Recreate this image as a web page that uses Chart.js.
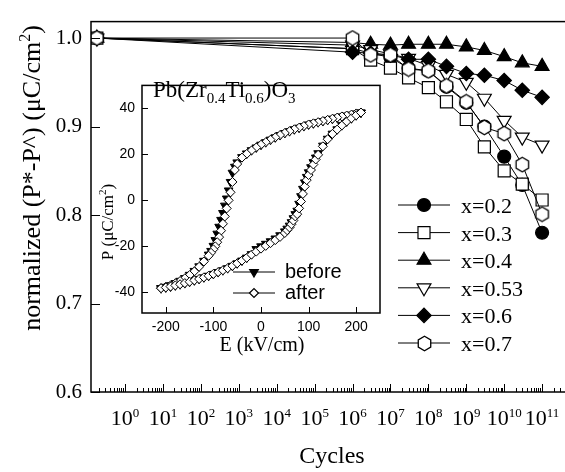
<!DOCTYPE html>
<html><head><meta charset="utf-8">
<script src="https://cdn.jsdelivr.net/npm/chart.js@4.4.1/dist/chart.umd.min.js"></script>
<style>
html,body{margin:0;padding:0;background:#fff;overflow:hidden;width:565px;height:472px;}
#wrap{position:relative;width:565px;height:472px;overflow:hidden;background:#fff;}
#main{position:absolute;left:0;top:0;width:600px;height:472px;}
#inset{position:absolute;left:90px;top:70px;width:300px;height:290px;}
</style></head><body>
<div id="wrap"><canvas id="main" width="600" height="472"></canvas><canvas id="inset" width="300" height="290"></canvas></div>
<script>
// ---------- main chart data ----------
const cycles = [0.18, 1e6, 3e6, 1e7, 3e7, 1e8, 3e8, 1e9, 3e9, 1e10, 3e10, 1e11];
const seriesLabels = ['x=0.2', 'x=0.3', 'x=0.4', 'x=0.53', 'x=0.6', 'x=0.7'];
const x02  = [1.0, 0.988, 0.983, 0.978, 0.966, 0.963, 0.945, 0.927, 0.900, 0.866, 0.834, 0.780];
const x03  = [1.0, 0.988, 0.975, 0.966, 0.955, 0.944, 0.928, 0.908, 0.877, 0.850, 0.835, 0.817];
const x04  = [1.0, 0.995, 0.993, 0.992, 0.993, 0.993, 0.993, 0.990, 0.986, 0.979, 0.972, 0.968];
const x053 = [1.0, 0.992, 0.987, 0.982, 0.977, 0.969, 0.959, 0.950, 0.932, 0.907, 0.888, 0.879];
const x06  = [1.0, 0.984, 0.983, 0.981, 0.976, 0.976, 0.968, 0.960, 0.958, 0.952, 0.941, 0.933];
const x07  = [1.0, 1.0, 0.981, 0.981, 0.965, 0.963, 0.946, 0.928, 0.899, 0.892, 0.857, 0.801];
const yTicks = [0.6, 0.7, 0.8, 0.9, 1.0];
const xTickPowers = [0, 1, 2, 3, 4, 5, 6, 7, 8, 9, 10, 11];

// ---------- inset (hysteresis loop) data ----------
const eDown = [210,200,190,180,170,160,150,140,130,120,110,100,90,80,70,60,50,40,30,20,10,0,-10,-20,-30,-40,-50,-55,-60,-64,-68,-72,-76,-80,-84,-88,-92,-96,-100,-105,-110,-120,-130,-140,-150,-160,-170,-180,-190,-200,-210];
const beforeDown = [38.2,37.8,37.3,36.9,36.5,36.0,35.5,35.0,34.5,34.0,33.5,33.0,32.3,31.6,30.9,30.1,29.3,28.4,27.4,26.4,25.3,24.2,23.0,21.8,20.4,18.8,16.5,14.6,12.0,8.0,4.3,0.8,-2.3,-5.5,-8.5,-11.5,-14.5,-17.3,-19.8,-22.0,-23.6,-26.3,-28.7,-30.7,-32.4,-33.8,-35.0,-36.0,-36.9,-37.6,-38.2];
const afterDown  = [38.2,37.8,37.3,36.9,36.5,36.0,35.5,35.0,34.5,34.0,33.5,33.0,32.3,31.6,30.9,30.1,29.3,28.4,27.4,26.4,25.3,24.2,23.0,21.7,20.2,18.6,15.8,13.2,8.0,3.5,0.0,-3.5,-7.0,-10.2,-13.2,-16.0,-18.2,-20.0,-21.3,-22.8,-24.1,-26.6,-28.9,-30.9,-32.5,-33.9,-35.1,-36.1,-37.0,-37.6,-38.2];
const eUp = [-210,-200,-190,-180,-170,-160,-150,-140,-130,-120,-110,-100,-90,-80,-70,-60,-50,-40,-30,-20,-10,0,10,20,30,40,50,55,60,64,68,72,76,80,84,88,92,96,100,105,110,115,120,130,140,150,160,170,180,190,200,210];
const beforeUp = [-38.2,-37.9,-37.5,-37.0,-36.5,-36.0,-35.4,-34.8,-34.2,-33.5,-32.8,-32.0,-31.2,-30.4,-29.5,-28.5,-27.4,-26.2,-24.9,-23.4,-21.2,-20.0,-18.9,-17.8,-16.6,-15.2,-13.5,-12.3,-11.0,-9.5,-7.8,-6.0,-4.5,-1.5,1.8,5.0,7.8,10.2,12.2,14.4,16.6,18.6,20.5,23.8,26.8,29.0,30.9,32.7,34.3,35.7,37.0,38.2];
const afterUp  = [-38.2,-37.9,-37.5,-37.0,-36.5,-36.0,-35.4,-34.8,-34.2,-33.5,-32.8,-32.0,-31.2,-30.4,-29.5,-28.5,-27.4,-26.2,-25.0,-23.6,-22.3,-21.0,-19.8,-18.6,-17.3,-15.9,-14.2,-13.0,-11.8,-10.4,-8.8,-7.0,-6.0,-3.5,-0.5,2.8,6.0,8.8,11.0,13.2,15.6,17.8,19.8,23.5,26.6,28.9,30.8,32.6,34.3,35.7,37.0,38.2];
const insetXTicks = [-200, -100, 0, 100, 200];
const insetYTicks = [-40, -20, 0, 20, 40];

const SERIF = '"Liberation Serif", "Times New Roman", serif';
const SANS = '"Liberation Sans", Arial, sans-serif';

function hexCanvas(r, fill, lw) {
  const s = 17;
  const c = document.createElement('canvas');
  c.width = s; c.height = s;
  const g = c.getContext('2d');
  g.beginPath();
  for (let i = 0; i < 6; i++) {
    const a = -Math.PI / 2 + i * Math.PI / 3;
    const px = s / 2 + r * Math.cos(a), py = s / 2 + r * Math.sin(a);
    if (i) g.lineTo(px, py); else g.moveTo(px, py);
  }
  g.closePath(); g.fillStyle = fill; g.fill();
  g.lineWidth = lw; g.strokeStyle = '#000'; g.stroke();
  return c;
}
const HEX = hexCanvas(7.2, '#fff', 1.3);

// marker styles (style, radius, fill, rotation)
const markerDefs = [
  {style: 'circle', r: 6.5, fill: '#000', rot: 0},
  {style: 'rect', r: 8.5, fill: '#fff', rot: 0},
  {style: 'triangle', r: 8, fill: '#000', rot: 0},
  {style: 'triangle', r: 8, fill: '#fff', rot: 180},
  {style: 'rectRot', r: 7.2, fill: '#000', rot: 0},
  {style: HEX, r: 7, fill: '#fff', rot: 0}
];

function drawMarker(ctx, def, x, y) {
  ctx.save();
  ctx.lineWidth = 1.2; ctx.strokeStyle = '#000'; ctx.fillStyle = def.fill;
  const r = def.r;
  if (def.style instanceof HTMLCanvasElement) {
    ctx.drawImage(def.style, Math.round(x - def.style.width / 2), Math.round(y - def.style.height / 2));
    ctx.restore(); return;
  }
  ctx.beginPath();
  if (def.style === 'circle') ctx.arc(x, y, r, 0, Math.PI * 2);
  else if (def.style === 'rect') { const s = Math.SQRT1_2 * r; ctx.rect(x - s, y - s, 2 * s, 2 * s); }
  else if (def.style === 'rectRot') { ctx.moveTo(x - r, y); ctx.lineTo(x, y - r); ctx.lineTo(x + r, y); ctx.lineTo(x, y + r); ctx.closePath(); }
  else if (def.style === 'triangle') {
    const sgn = def.rot ? -1 : 1;
    ctx.moveTo(x, y - sgn * r); ctx.lineTo(x + 0.866 * r, y + sgn * r / 2); ctx.lineTo(x - 0.866 * r, y + sgn * r / 2); ctx.closePath();
  }
  ctx.fill(); ctx.stroke();
  ctx.restore();
}

// draw text made of parts {t, size, dy}
function richWidth(ctx, parts, fam) {
  let w = 0;
  parts.forEach(p => { ctx.font = p.size + 'px ' + fam; w += ctx.measureText(p.t).width; });
  return w;
}
function drawRich(ctx, parts, fam, x, y, align) {
  const w = richWidth(ctx, parts, fam);
  let cx = align === 'center' ? x - w / 2 : (align === 'right' ? x - w : x);
  ctx.textAlign = 'left'; ctx.textBaseline = 'alphabetic';
  parts.forEach(p => {
    ctx.font = p.size + 'px ' + fam;
    ctx.fillText(p.t, cx, y + (p.dy || 0));
    cx += ctx.measureText(p.t).width;
  });
}
function line(ctx, x1, y1, x2, y2) { ctx.beginPath(); ctx.moveTo(x1, y1); ctx.lineTo(x2, y2); ctx.stroke(); }

const mainDecor = {
  id: 'mainDecor',
  afterDraw(chart) {
    const {ctx, chartArea: a, scales: {x, y}} = chart;
    ctx.save();
    ctx.strokeStyle = '#000'; ctx.fillStyle = '#000';
    ctx.lineWidth = 1.5;
    ctx.strokeRect(a.left, a.top, a.right - a.left, a.bottom - a.top);
    ctx.lineWidth = 1;
    yTicks.forEach(v => { const py = Math.round(y.getPixelForValue(v)) + 0.5; line(ctx, a.left, py, a.left + 9, py); });
    for (let p = -1; p <= 12; p++) {
      for (let m = 1; m <= 9; m++) {
        const v = m * Math.pow(10, p);
        if (v < x.min * 0.999 || v > x.max * 1.001) continue;
        const px = Math.round(x.getPixelForValue(v)) + 0.5;
        line(ctx, px, a.bottom, px, a.bottom - (m === 1 ? 8 : 4));
      }
    }
    // x tick labels with superscripts
    xTickPowers.forEach(p => {
      const px = x.getPixelForValue(Math.pow(10, p));
      drawRich(ctx, [{t: '10', size: 22}, {t: String(p), size: 13, dy: -8}], SERIF, px, 425, 'center');
    });
    // x title
    ctx.font = '24px ' + SERIF; ctx.textAlign = 'center'; ctx.textBaseline = 'alphabetic';
    ctx.fillText('Cycles', 332, 463);
    // y title (rotated)
    ctx.save();
    ctx.translate(40, 178); ctx.rotate(-Math.PI / 2);
    drawRich(ctx, [{t: 'normalized (P*-P^) (\u03bcC/cm', size: 26}, {t: '2', size: 16, dy: -10}, {t: ')', size: 26}], SERIF, 0, 0, 'center');
    ctx.restore();
    // legend
    ctx.lineWidth = 1;
    seriesLabels.forEach((lab, i) => {
      const ly = 205 + i * 27.6;
      line(ctx, 398, ly, 450, ly);
      drawMarker(ctx, markerDefs[i], 424, ly);
      ctx.fillStyle = '#000'; ctx.font = '22px ' + SERIF; ctx.textAlign = 'left'; ctx.textBaseline = 'alphabetic';
      ctx.fillText(lab, 461, ly + 8);
    });
    ctx.restore();
  }
};

const seriesValues = [x02, x03, x04, x053, x06, x07];
const mainDatasets = seriesValues.map((vals, i) => ({
  label: seriesLabels[i],
  data: cycles.map((c, k) => ({x: c, y: vals[k]})),
  borderColor: '#000', borderWidth: 1, backgroundColor: markerDefs[i].fill,
  pointStyle: markerDefs[i].style, pointRadius: markerDefs[i].r, pointRotation: markerDefs[i].rot,
  pointBorderColor: '#000', pointBorderWidth: 1.2, pointBackgroundColor: markerDefs[i].fill,
  fill: false, tension: 0, order: 6 - i
}));

new Chart(document.getElementById('main'), {
  type: 'line',
  data: {datasets: mainDatasets},
  options: {
    responsive: false, animation: false, events: [],
    layout: {padding: {top: 9, right: 20, left: 0, bottom: 0}},
    plugins: {legend: {display: false}, tooltip: {enabled: false}},
    scales: {
      x: {type: 'logarithmic', min: Math.pow(10, -0.9), max: 1e12,
          ticks: {display: false}, grid: {display: false, drawTicks: false}, border: {display: false},
          afterFit: s => { s.height = 80; }},
      y: {type: 'linear', min: 0.6, max: 1.0186,
          afterBuildTicks: s => { s.ticks = yTicks.map(v => ({value: v})); },
          ticks: {callback: v => Number(v).toFixed(1), color: '#000', padding: 9, font: {family: SERIF, size: 21}},
          grid: {display: false, drawTicks: false}, border: {display: false},
          afterFit: s => { s.width = 91; }}
    }
  },
  plugins: [mainDecor]
});

// ---------- inset ----------
const insetDecor = {
  id: 'insetDecor',
  afterDraw(chart) {
    const {ctx, chartArea: a, scales: {x, y}} = chart;
    ctx.save();
    ctx.strokeStyle = '#000'; ctx.fillStyle = '#000';
    ctx.lineWidth = 1.5;
    ctx.strokeRect(a.left, a.top, a.right - a.left, a.bottom - a.top);
    ctx.lineWidth = 1;
    insetYTicks.forEach(v => { const py = Math.round(y.getPixelForValue(v)) + 0.5; line(ctx, a.left, py, a.left + 6, py); });
    insetXTicks.forEach(v => { const px = Math.round(x.getPixelForValue(v)) + 0.5; line(ctx, px, a.bottom, px, a.bottom - 6); });
    // compound name
    drawRich(ctx, [{t: 'Pb(Zr', size: 23}, {t: '0.4', size: 15, dy: 6}, {t: 'Ti', size: 23}, {t: '0.6', size: 15, dy: 6}, {t: ')O', size: 23}, {t: '3', size: 15, dy: 6}], SERIF, 63, 27, 'left');
    // axis titles
    drawRich(ctx, [{t: 'E (kV/cm)', size: 20}], SERIF, 172, 281, 'center');
    ctx.save();
    ctx.translate(23, 152); ctx.rotate(-Math.PI / 2);
    drawRich(ctx, [{t: 'P (\u03bcC/cm', size: 17}, {t: '2', size: 11, dy: -7}, {t: ')', size: 17}], SERIF, 0, 0, 'center');
    ctx.restore();
    // legend
    const legs = [
      {lab: 'before', def: {style: 'triangle', r: 5, fill: '#000', rot: 180}, y: 202},
      {lab: 'after', def: {style: 'rectRot', r: 4.5, fill: '#fff', rot: 0}, y: 223}
    ];
    legs.forEach(l => {
      line(ctx, 143, l.y, 185, l.y);
      drawMarker(ctx, l.def, 164, l.y);
      ctx.fillStyle = '#000'; ctx.font = '20px ' + SANS; ctx.textAlign = 'left'; ctx.textBaseline = 'middle';
      ctx.fillText(l.lab, 195, l.y);
    });
    ctx.restore();
  }
};

const beforePts = eDown.map((e, i) => ({x: e, y: beforeDown[i]})).concat(eUp.map((e, i) => ({x: e, y: beforeUp[i]})));
const afterPts = eDown.map((e, i) => ({x: e, y: afterDown[i]})).concat(eUp.map((e, i) => ({x: e, y: afterUp[i]})));

new Chart(document.getElementById('inset'), {
  type: 'scatter',
  data: {datasets: [
    {label: 'after', data: afterPts, showLine: false, pointStyle: 'rectRot', pointRadius: 4.5,
     pointBackgroundColor: '#fff', pointBorderColor: '#000', pointBorderWidth: 1, order: 1},
    {label: 'before', data: beforePts, showLine: false, pointStyle: 'triangle', pointRotation: 180, pointRadius: 5,
     pointBackgroundColor: '#000', pointBorderColor: '#000', pointBorderWidth: 1, order: 2}
  ]},
  options: {
    responsive: false, animation: false, events: [],
    layout: {padding: {top: 7, right: 10, left: 0, bottom: 0}},
    plugins: {legend: {display: false}, tooltip: {enabled: false}},
    scales: {
      x: {type: 'linear', min: -250, max: 250,
          afterBuildTicks: s => { s.ticks = insetXTicks.map(v => ({value: v})); },
          ticks: {color: '#000', padding: 6, font: {family: SANS, size: 14}},
          grid: {display: false, drawTicks: false}, border: {display: false},
          afterFit: s => { s.height = 47; }},
      y: {type: 'linear', min: -49, max: 50,
          afterBuildTicks: s => { s.ticks = insetYTicks.map(v => ({value: v})); },
          ticks: {color: '#000', padding: 7, font: {family: SANS, size: 14}},
          grid: {display: false, drawTicks: false}, border: {display: false},
          afterFit: s => { s.width = 52; }}
    }
  },
  plugins: [insetDecor]
});
</script>
</body></html>
